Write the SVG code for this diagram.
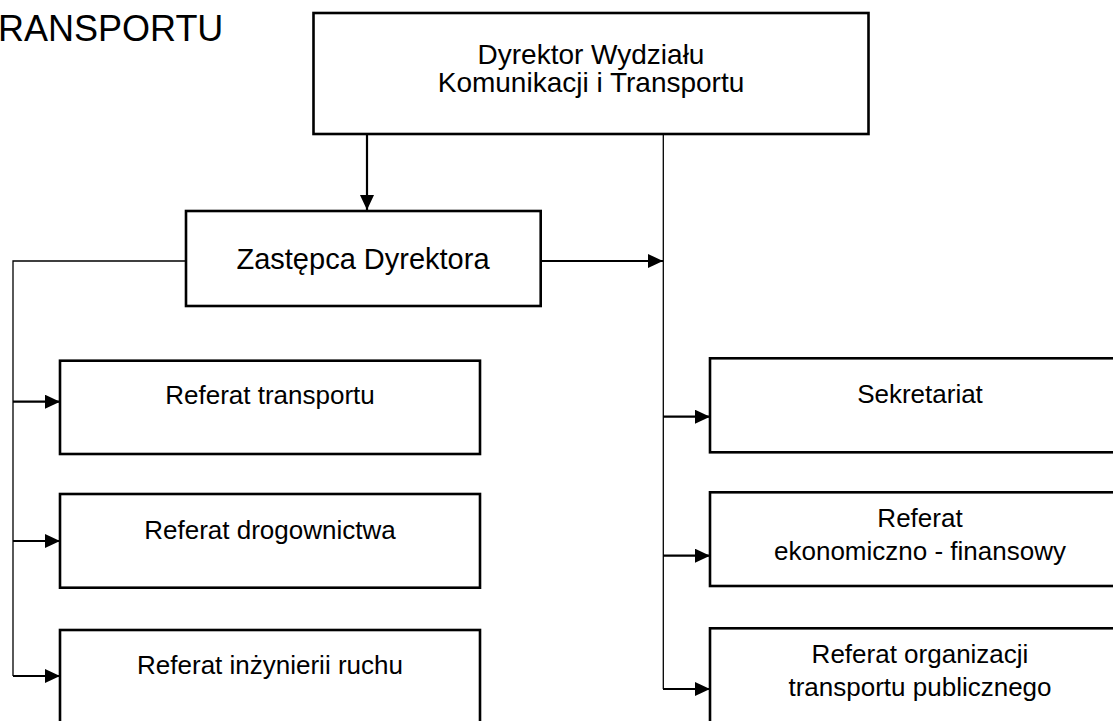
<svg xmlns="http://www.w3.org/2000/svg" width="1113" height="721" viewBox="0 0 1113 721">
<style>
  .box { fill: #fff; stroke: #000; stroke-width: 2.6; }
  .t { font-family: "Liberation Sans", Arial, sans-serif; fill: #000; text-anchor: middle; }
  .t26 { font-size: 26px; }
  .t28 { font-size: 28px; }
  .t29 { font-size: 29px; }
  .thin { fill: none; stroke: #000; stroke-width: 1.3; }
  .arr { fill: none; stroke: #000; stroke-width: 2.2; marker-end: url(#ah); }
</style>
<defs>
  <marker id="ah" markerUnits="userSpaceOnUse" markerWidth="15" markerHeight="14" refX="15" refY="7" orient="auto">
    <path d="M0,0 L15,7 L0,14 Z" fill="#000"/>
  </marker>
</defs>
<rect width="1113" height="721" fill="#fff"/>
<text x="-2" y="41" font-family="Liberation Sans, Arial, sans-serif" font-size="36">RANSPORTU</text>

<g id="connectors">
  <line class="arr" x1="367" y1="135" x2="367" y2="210"/>
  <polyline class="thin" points="186,261 13,261 13,676"/>
  <line class="arr" x1="13" y1="401.7" x2="60" y2="401.7"/>
  <line class="arr" x1="13" y1="541" x2="60" y2="541"/>
  <line class="arr" x1="13" y1="676" x2="60" y2="676"/>
  <line class="arr" x1="541" y1="261" x2="663" y2="261"/>
  <line class="thin" x1="663.3" y1="134" x2="663.3" y2="689"/>
  <line class="arr" x1="663" y1="416.7" x2="710" y2="416.7"/>
  <line class="arr" x1="663" y1="555.7" x2="710" y2="555.7"/>
  <line class="arr" x1="663" y1="689" x2="710" y2="689"/>
</g>

<g id="dyrektor">
  <rect class="box" x="313.5" y="13" width="555" height="121"/>
  <text class="t t28" x="591" y="64">Dyrektor Wydziału</text>
  <text class="t t28" x="591" y="92">Komunikacji i Transportu</text>
</g>
<g id="zastepca">
  <rect class="box" x="186" y="211" width="354.7" height="95"/>
  <text class="t t29" x="363" y="269">Zastępca Dyrektora</text>
</g>
<g id="ref-transportu">
  <rect class="box" x="60" y="360.7" width="420" height="93.3"/>
  <text class="t t26" x="270" y="404">Referat transportu</text>
</g>
<g id="ref-drogownictwa">
  <rect class="box" x="60" y="494" width="420" height="93.7"/>
  <text class="t t26" x="270" y="539">Referat drogownictwa</text>
</g>
<g id="ref-inzynierii">
  <rect class="box" x="60" y="630" width="420" height="120"/>
  <text class="t t26" x="270" y="674">Referat inżynierii ruchu</text>
</g>
<g id="sekretariat">
  <rect class="box" x="710" y="358.3" width="420" height="94"/>
  <text class="t t26" x="920" y="403.3">Sekretariat</text>
</g>
<g id="ref-ekonomiczno">
  <rect class="box" x="710" y="492.3" width="420" height="93.7"/>
  <text class="t t26" x="920" y="527.3">Referat</text>
  <text class="t t26" x="920" y="560">ekonomiczno - finansowy</text>
</g>
<g id="ref-organizacji">
  <rect class="box" x="710" y="628.3" width="420" height="120"/>
  <text class="t t26" x="920" y="663.3">Referat organizacji</text>
  <text class="t t26" x="920" y="696">transportu publicznego</text>
</g>
</svg>
